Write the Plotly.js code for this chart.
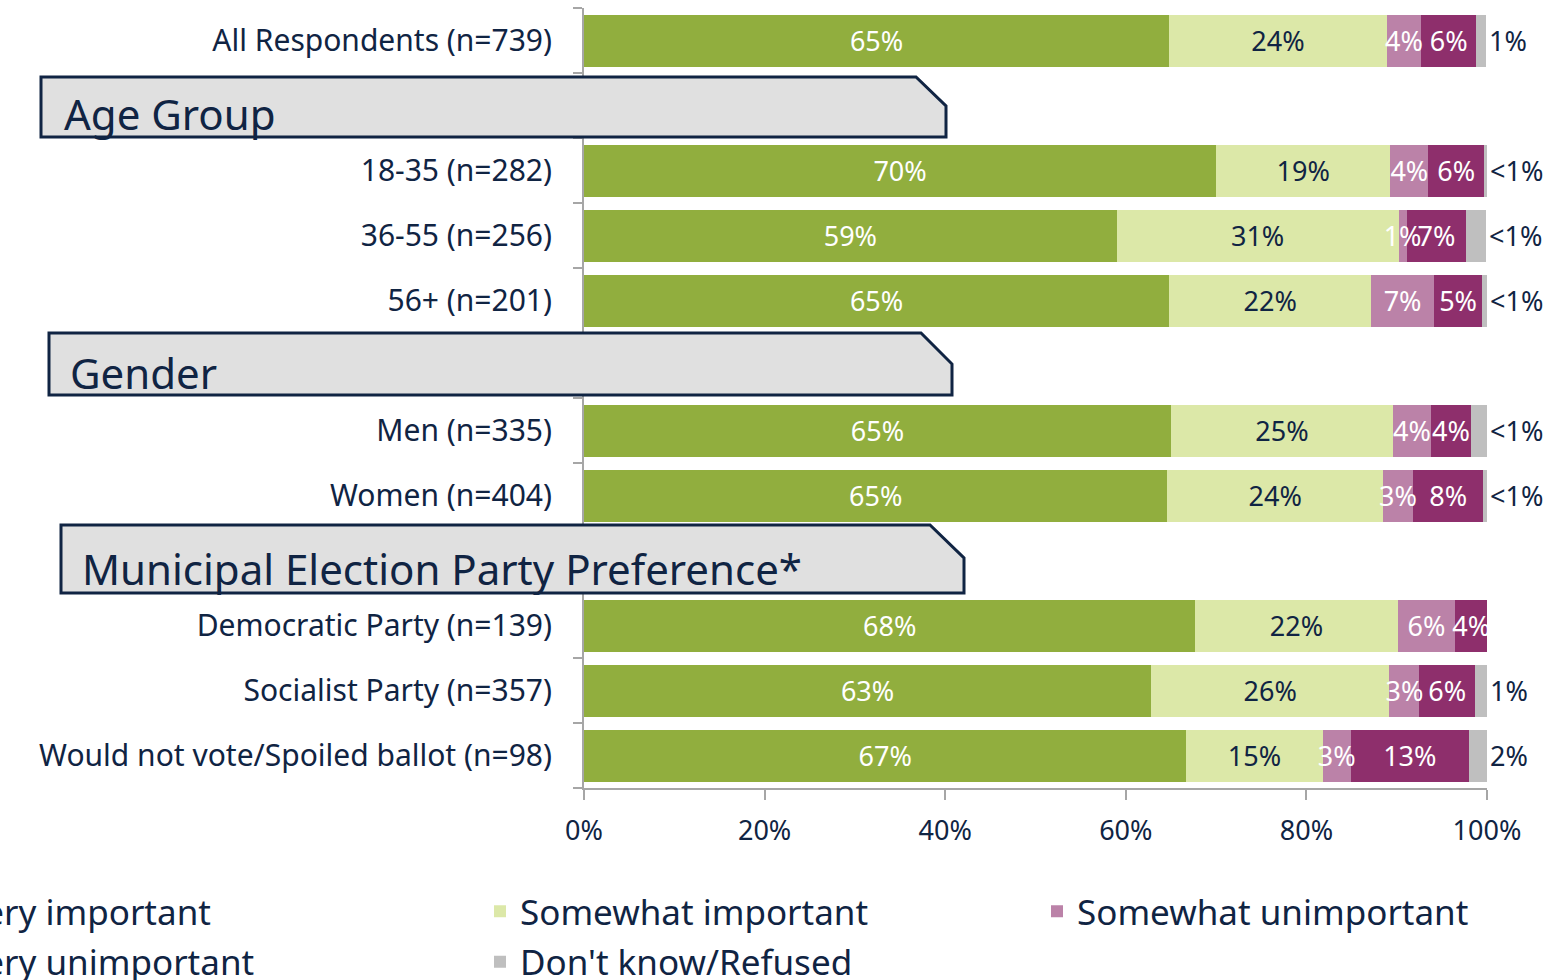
<!DOCTYPE html>
<html>
<head>
<meta charset="utf-8">
<script src="https://cdn.plot.ly/plotly-3.0.1.min.js"></script>
<style>html,body{margin:0;padding:0;background:#fff;}#chart{width:1547px;height:980px;}</style>
</head>
<body>
<div id="chart"></div>
<script>
// ---- data ----
const categories = ["All Respondents (n=739)", "Age Group", "18-35 (n=282)", "36-55 (n=256)", "56+ (n=201)", "Gender", "Men (n=335)", "Women (n=404)", "Municipal Election Party Preference*", "Democratic Party (n=139)", "Socialist Party (n=357)", "Would not vote/Spoiled ballot (n=98)"];
const tickLabels = ["All Respondents (n=739)", "", "18-35 (n=282)", "36-55 (n=256)", "56+ (n=201)", "", "Men (n=335)", "Women (n=404)", "", "Democratic Party (n=139)", "Socialist Party (n=357)", "Would not vote/Spoiled ballot (n=98)"];
const groupTitles = ["Age Group", "Gender", "Municipal Election Party Preference*"];
const seriesNames = ["Very important", "Somewhat important", "Somewhat unimportant", "Very unimportant", "Don't know/Refused"];

const veryImportant       = [64.8, null, 70.0, 59.0, 64.8, null, 65.0, 64.6, null, 67.7, 62.8, 66.7];
const somewhatImportant   = [24.1, null, 19.3, 31.2, 22.4, null, 24.6, 23.9, null, 22.4, 26.4, 15.1];
const somewhatUnimportant = [3.8,  null, 4.2,  0.9,  6.9,  null, 4.2,  3.3,  null, 6.4,  3.3,  3.1];
const veryUnimportant     = [6.1,  null, 6.2,  6.6,  5.4,  null, 4.4,  7.8,  null, 3.5,  6.2,  13.1];
const dontKnow            = [1.1,  null, 0.3,  2.2,  0.5,  null, 1.8,  0.4,  null, 0,    1.3,  2.0];

const viLabels  = ["65%", "", "70%", "59%", "65%", "", "65%", "65%", "", "68%", "63%", "67%"];
const siLabels  = ["24%", "", "19%", "31%", "22%", "", "25%", "24%", "", "22%", "26%", "15%"];
const suLabels  = ["4%",  "", "4%",  "1%",  "7%",  "", "4%",  "3%",  "", "6%",  "3%",  "3%"];
const vuLabels  = ["6%",  "", "6%",  "7%",  "5%",  "", "4%",  "8%",  "", "4%",  "6%",  "13%"];
const dkLabels  = ["1%",  "", "<1%", "<1%", "<1%", "", "<1%", "<1%", "", "",    "1%",  "2%"];

const xTicks = [0, 20, 40, 60, 80, 100];
const xTickLabels = ["0%", "20%", "40%", "60%", "80%", "100%"];

// ---- style ----
const NAVY = "#102443";
const colors = ["#91AE3E", "#DCE8A8", "#BB82A8", "#8E2F6C", "#BFBFBF"];
const FONT = "Noto Sans, Open Sans, sans-serif";

// plot area in pixels
const L = 584, R = 1487, T = 8, B = 788;
const fx = px => (px - L) / (R - L);
const fy = py => (B - py) / (B - T);

const valueSets = [veryImportant, somewhatImportant, somewhatUnimportant, veryUnimportant, dontKnow];
const labelSets = [viLabels, siLabels, suLabels, vuLabels, dkLabels];
const textColors = ["#FFFFFF", NAVY, "#FFFFFF", "#FFFFFF", NAVY];
const legendIds = ["legend", "legend2", "legend3", "legend", "legend2"];

// coloured bars (main subplot)
const barTraces = valueSets.map((vals, i) => ({
  type: "bar", orientation: "h",
  name: seriesNames[i],
  x: vals, y: categories,
  marker: {color: colors[i], line: {width: 0}},
  textposition: "none",
  legend: legendIds[i], legendgroup: "g" + i,
  xaxis: "x", yaxis: "y"
}));
// same stacks on an overlaid subplot, transparent, carrying the value labels above all bars
const labelTraces = valueSets.map((vals, i) => ({
  type: "bar", orientation: "h",
  name: seriesNames[i],
  x: vals, y: categories,
  text: labelSets[i], texttemplate: "%{text}",
  textposition: i === 4 ? "outside" : "inside",
  insidetextanchor: "middle", textangle: 0, constraintext: "none", cliponaxis: false,
  textfont: {family: FONT, size: 27, color: textColors[i]},
  marker: {color: "rgba(0,0,0,0)", line: {width: 0}},
  showlegend: false,
  xaxis: "x2", yaxis: "y2"
}));

// header boxes (chamfered)
function boxPath(x0, y0, x1, y1, cx, cy) {
  return "M" + fx(x0) + "," + fy(y0) +
         " L" + fx(cx) + "," + fy(y0) +
         " L" + fx(x1) + "," + fy(cy) +
         " L" + fx(x1) + "," + fy(y1) +
         " L" + fx(x0) + "," + fy(y1) + " Z";
}
const boxes = [
  {x0: 41, y0: 77, x1: 946, y1: 137, cx: 916, cy: 106, tx: 62, ty: 114},
  {x0: 49, y0: 333, x1: 952, y1: 395, cx: 921, cy: 364, tx: 68, ty: 372},
  {x0: 61, y0: 525, x1: 964, y1: 593, cx: 930, cy: 558, tx: 80, ty: 568}
];
const shapes = boxes.map(b => ({
  type: "path", xref: "paper", yref: "paper", layer: "above",
  path: boxPath(b.x0, b.y0, b.x1, b.y1, b.cx, b.cy),
  fillcolor: "#E0E0E0", line: {color: NAVY, width: 3}
}));
const annotations = boxes.map((b, i) => ({
  xref: "paper", yref: "paper", x: fx(b.tx), y: fy(b.ty),
  xanchor: "left", yanchor: "middle", showarrow: false,
  text: groupTitles[i], font: {family: FONT, size: 42, color: NAVY}
}));

const legendBase = {
  orientation: "v", xanchor: "left", yanchor: "top", y: fy(882),
  font: {family: FONT, size: 35, color: NAVY},
  bgcolor: "rgba(0,0,0,0)", tracegroupgap: 2, itemclick: false, itemdoubleclick: false
};

const layout = {
  width: 1547, height: 980,
  margin: {l: L, r: 1547 - R, t: T, b: 980 - B, pad: 0, autoexpand: false},
  paper_bgcolor: "#FFFFFF", plot_bgcolor: "#FFFFFF",
  barmode: "stack", bargap: 0.2,
  font: {family: FONT, color: NAVY},
  showlegend: true,
  legend: Object.assign({}, legendBase, {x: fx(-76)}),
  legend2: Object.assign({}, legendBase, {x: fx(480)}),
  legend3: Object.assign({}, legendBase, {x: fx(1037)}),
  xaxis: {
    range: [0, 100], tickmode: "array", tickvals: xTicks, ticktext: xTickLabels,
    showgrid: false, zeroline: false, showline: true, linecolor: "#A6A6A6", linewidth: 2,
    ticks: "outside", ticklen: 10, tickwidth: 2, tickcolor: "#A6A6A6",
    tickfont: {family: FONT, size: 27, color: NAVY}, ticklabelstandoff: 8, fixedrange: true
  },
  yaxis: {
    type: "category", autorange: "reversed",
    tickmode: "array", tickvals: categories, ticktext: tickLabels, tickson: "boundaries",
    showgrid: false, zeroline: false, showline: true, linecolor: "#A6A6A6", linewidth: 2,
    ticks: "outside", ticklen: 9, tickwidth: 2, tickcolor: "#A6A6A6",
    tickfont: {family: FONT, size: 30, color: NAVY}, ticklabelstandoff: 24, fixedrange: true
  },
  xaxis2: {range: [0, 100], overlaying: "x", anchor: "y2", visible: false, fixedrange: true},
  yaxis2: {type: "category", autorange: "reversed", overlaying: "y", anchor: "x2",
           categoryorder: "array", categoryarray: categories, visible: false, fixedrange: true},
  shapes: shapes,
  annotations: annotations
};

Plotly.newPlot("chart", barTraces.concat(labelTraces), layout, {displayModeBar: false, staticPlot: true});
</script>
</body>
</html>
